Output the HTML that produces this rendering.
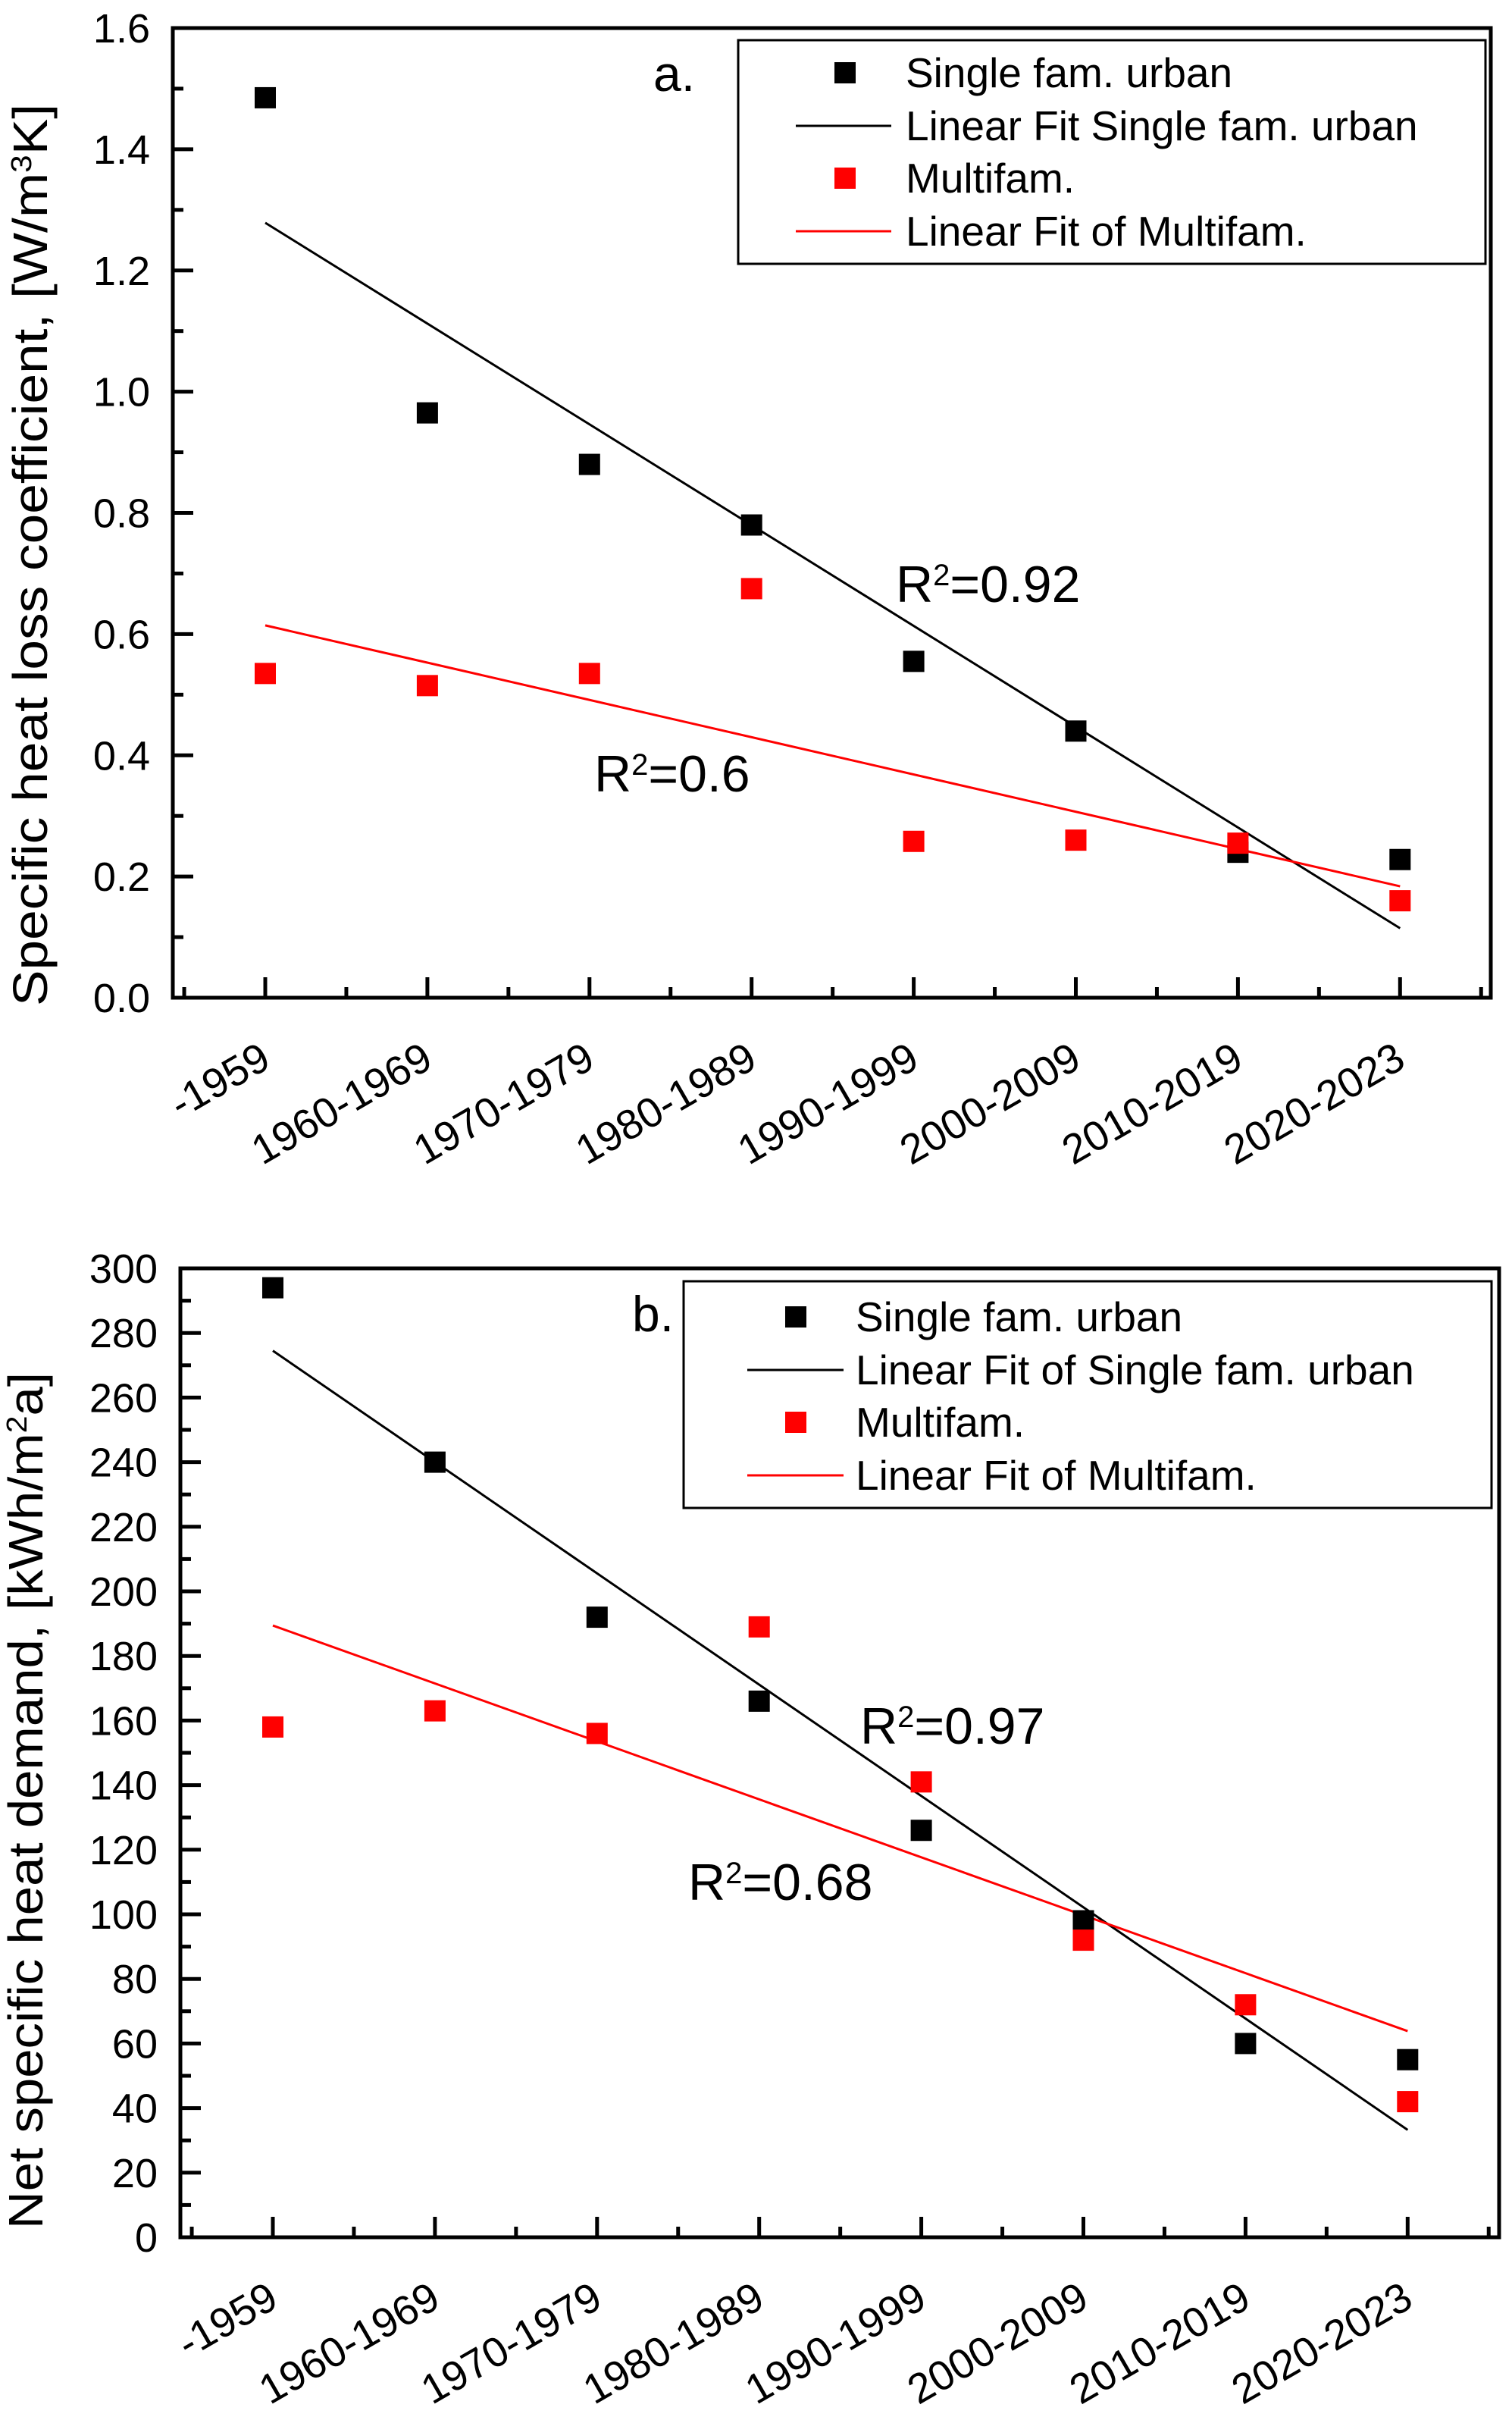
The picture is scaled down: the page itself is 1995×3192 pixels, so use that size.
<!DOCTYPE html>
<html><head><meta charset="utf-8"><style>
html,body{margin:0;padding:0;background:#fff;}
svg{display:block;font-family:"Liberation Sans",Arial,sans-serif;}
</style></head><body>
<svg id="chart" width="1995" height="3192" viewBox="0 0 1995 3192" xmlns="http://www.w3.org/2000/svg"></svg>
<script>
const categories = ["-1959","1960-1969","1970-1979","1980-1989","1990-1999","2000-2009","2010-2019","2020-2023"];
const aSingle = [1.485,0.965,0.88,0.78,0.555,0.44,0.24,0.228];
const aMulti = [0.535,0.515,0.535,0.675,0.258,0.26,0.255,0.16];
const aTicks = ["0.0","0.2","0.4","0.6","0.8","1.0","1.2","1.4","1.6"];
const bSingle = [294,240,192,166,126,98,60,55];
const bMulti = [158,163,156,189,141,92,72,42];
const bTicks = ["0","20","40","60","80","100","120","140","160","180","200","220","240","260","280","300"];

const NS = "http://www.w3.org/2000/svg";
const svg = document.getElementById('chart');
function mk(tag, attrs, parent, text){
  const e = document.createElementNS(NS, tag);
  for (const k in attrs) e.setAttribute(k, attrs[k]);
  if (text !== undefined) e.textContent = text;
  (parent || svg).appendChild(e);
  return e;
}
function fit(ys){
  const n = ys.length; const mx = (n-1)/2;
  const my = ys.reduce((a,b)=>a+b,0)/n;
  let sxy=0, sxx=0;
  ys.forEach((y,i)=>{sxy+=(i-mx)*(y-my); sxx+=(i-mx)*(i-mx);});
  const s = sxy/sxx; return [my - s*mx, s];
}

function drawPanel(cfg){
  const g = mk('g', {});
  
  
  const {L,R,T,B,x0,dx,ymax} = cfg;
  const X = i => x0 + i*dx;
  const Y = v => B - (v/ymax)*(B-T);
  const frame = mk('rect', {x:L, y:T, width:R-L, height:B-T, fill:'none', stroke:'#000', 'stroke-width':5}, g);
  
  
  const step = ymax/(cfg.yTicks.length-1);
  cfg.yTicks.forEach((t,i)=>{
    const y = Y(i*step);
    const tk = mk('line', {x1:L, x2:L+27, y1:y, y2:y, stroke:'#000', 'stroke-width':5}, g);
    
    
    if (i < cfg.yTicks.length-1){
      const ym = Y((i+0.5)*step);
      const mt = mk('line', {x1:L, x2:L+14, y1:ym, y2:ym, stroke:'#000', 'stroke-width':5}, g);
      
      
    }
    const lb = mk('text', {x:cfg.yLabX, y:y+19, 'text-anchor':'end', 'font-size':54}, g, t);
    
    
  });
  for (let k=-1; k<categories.length*2; k++){
    const x = x0 + k*dx/2;
    if (x <= L+3 || x >= R-3) continue;
    const major = k%2===0;
    const tk = mk('line', {x1:x, x2:x, y1:B, y2:B-(major?27:14), stroke:'#000', 'stroke-width':5}, g);
    
    
  }
  categories.forEach((c,i)=>{
    const x = X(i)+10, y = B+90;
    const lb = mk('text', {x:x, y:y, 'text-anchor':'end', 'font-size':55, transform:`rotate(-30 ${x} ${y})`}, g, c);
    
    
  });
  const tt = mk('text', {x:cfg.titleX, y:cfg.titleY, 'text-anchor':'middle', 'font-size':64, textLength:cfg.titleLen, lengthAdjust:'spacingAndGlyphs', transform:`rotate(-90 ${cfg.titleX} ${cfg.titleY})`}, g);
  
  
  tt.appendChild(document.createTextNode(cfg.title[0]));
  mk('tspan', {'baseline-shift':'super','font-size':38}, tt, cfg.title[1]);
  mk('tspan', {}, tt, cfg.title[2]);
  [[cfg.s1,'#000','fit-line-single'],[cfg.s2,'#f00','fit-line-multi']].forEach(([d,col,nm])=>{
    const [a,s] = fit(d);
    const ln = mk('line', {x1:X(0), y1:Y(a), x2:X(d.length-1), y2:Y(a+s*(d.length-1)), stroke:col, 'stroke-width':3}, g);
    
    
  });
  cfg.s1.forEach((v,i)=>{
    const r = mk('rect', {x:X(i)-14, y:Y(v)-14, width:28, height:28, fill:'#000'}, g);
    
    
  });
  cfg.s2.forEach((v,i)=>{
    const r = mk('rect', {x:X(i)-14, y:Y(v)-14, width:28, height:28, fill:'#f00'}, g);
    
    
  });
  const pl = mk('text', {x:cfg.pLab[0], y:cfg.pLab[1], 'font-size':66}, g, cfg.pLab[2]);
  
  
  cfg.r2.forEach(([x,y,v])=>{
    const t = mk('text', {x:x, y:y, 'font-size':68}, g, 'R');
    
    
    mk('tspan', {'baseline-shift':'super','font-size':40}, t, '2');
    mk('tspan', {}, t, '='+v);
  });
  const lg = cfg.leg;
  const lgG = mk('g', {}, g);
  
  
  mk('rect', {x:lg.x, y:lg.y, width:lg.w, height:lg.h, fill:'#fff', stroke:'#000', 'stroke-width':3}, lgG);
  lg.items.forEach((it,i)=>{
    const y = lg.ys[i];
    const e = mk('g', {}, lgG);
    
    
    if (it.type==='m') mk('rect', {x:lg.mx-14, y:y-14, width:28, height:28, fill:it.c}, e);
    else mk('line', {x1:lg.l1, x2:lg.l2, y1:y, y2:y, stroke:it.c, 'stroke-width':3}, e);
    mk('text', {x:lg.tx, y:y+19, 'font-size':55}, e, it.t);
  });
}

drawPanel({name:'panel-a', L:228, R:1967, T:37, B:1316, x0:350, dx:213.9, ymax:1.6,
  yTicks:aTicks, yLabX:198, s1:aSingle, s2:aMulti,
  titleX:62, titleY:732, titleLen:1190, title:['Specific heat loss coefficient, [W/m','3','K]'],
  pLab:[862,120,'a.'], r2:[[1182,794,'0.92'],[784,1044,'0.6']],
  leg:{x:974, y:53, w:986, h:295, ys:[96,166,235,305], mx:1115, l1:1050, l2:1176, tx:1195,
    items:[{type:'m',c:'#000',t:'Single fam. urban'},{type:'l',c:'#000',t:'Linear Fit Single fam. urban'},{type:'m',c:'#f00',t:'Multifam.'},{type:'l',c:'#f00',t:'Linear Fit of Multifam.'}]}
});
drawPanel({name:'panel-b', L:238, R:1978, T:1673, B:2951, x0:360, dx:213.9, ymax:300,
  yTicks:bTicks, yLabX:208, s1:bSingle, s2:bMulti,
  titleX:56, titleY:2375, titleLen:1130, title:['Net specific heat demand, [kWh/m','2','a]'],
  pLab:[834,1756,'b.'], r2:[[1135,2300,'0.97'],[908,2506,'0.68']],
  leg:{x:902, y:1690, w:1066, h:299, ys:[1737,1807,1876,1946], mx:1050, l1:986, l2:1113, tx:1129,
    items:[{type:'m',c:'#000',t:'Single fam. urban'},{type:'l',c:'#000',t:'Linear Fit of Single fam. urban'},{type:'m',c:'#f00',t:'Multifam.'},{type:'l',c:'#f00',t:'Linear Fit of Multifam.'}]}
});
</script>
</body></html>
